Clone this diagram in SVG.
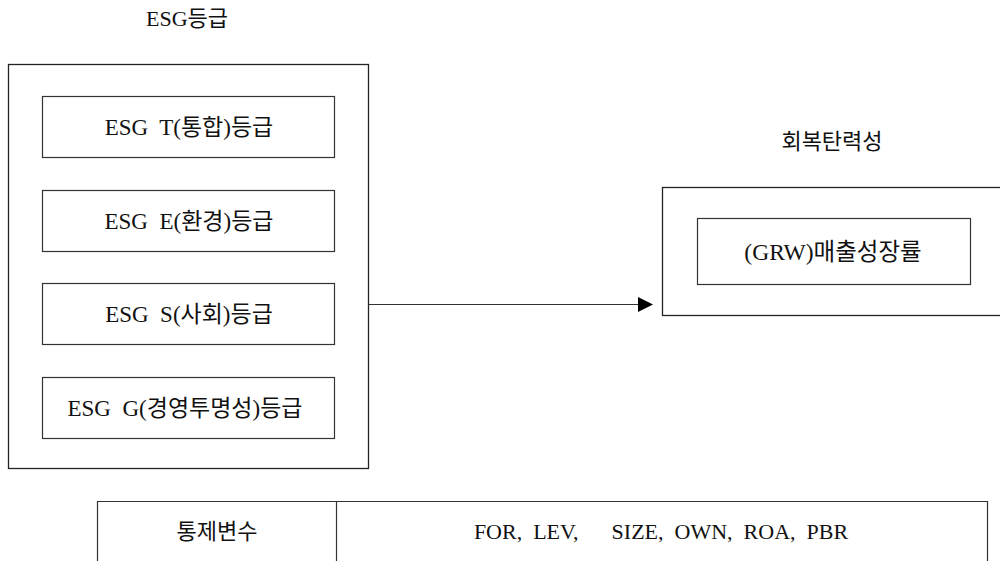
<svg xmlns="http://www.w3.org/2000/svg" width="1000" height="561" viewBox="0 0 1000 561">
<style>
.box{fill:#fff;stroke:#222;stroke-width:1.3}
.ibox{fill:#fff;stroke:#333;stroke-width:1.2}
.t{font-family:"Liberation Serif","Noto Sans CJK KR",serif;font-size:22px;fill:#111;text-anchor:middle}
.b{font-size:23px}
.g{font-size:23.5px}
.ln{stroke:#333;stroke-width:1.2;fill:none}
</style>
<rect width="1000" height="561" fill="#fff"/>
<g id="esg-group">
<text class="t" x="187" y="26">ESG등급</text>
<rect class="box" x="8.5" y="64.5" width="360" height="404"/>
</g>
<g id="esg-t">
<rect class="ibox" x="42.5" y="96.5" width="292" height="61"/>
<text class="t b" x="189" y="135" xml:space="preserve">ESG  T(통합)등급</text>
</g>
<g id="esg-e">
<rect class="ibox" x="42.5" y="190.5" width="292" height="61"/>
<text class="t b" x="189" y="229" xml:space="preserve">ESG  E(환경)등급</text>
</g>
<g id="esg-s">
<rect class="ibox" x="42.5" y="283.5" width="292" height="61"/>
<text class="t b" x="189" y="322" xml:space="preserve">ESG  S(사회)등급</text>
</g>
<g id="esg-g">
<rect class="ibox" x="42.5" y="377.5" width="292" height="61"/>
<text class="t b" x="185" y="416" xml:space="preserve">ESG  G(경영투명성)등급</text>
</g>
<g id="resilience">
<text class="t" x="832" y="149">회복탄력성</text>
<rect class="box" x="662.5" y="187.5" width="340" height="128"/>
</g>
<g id="grw">
<rect class="ibox" x="697.5" y="218.5" width="273" height="66"/>
<text class="t g" x="833" y="260">(GRW)매출성장률</text>
</g>
<g id="connectors">
<line class="ln" x1="369" y1="304.5" x2="640" y2="304.5"/>
<polygon points="638,297 653,304.5 638,312" fill="#000"/>
</g>
<g id="controls">
<path class="ln" d="M97.5,570 V501.5 H987.5 V570 M336.5,501.5 V570" stroke="#222" stroke-width="1.4"/>
<text class="t" x="217" y="539">통제변수</text>
<text class="t" x="661" y="539" xml:space="preserve" word-spacing="5.5">FOR, LEV,   SIZE, OWN, ROA, PBR</text>
</g>
</svg>
